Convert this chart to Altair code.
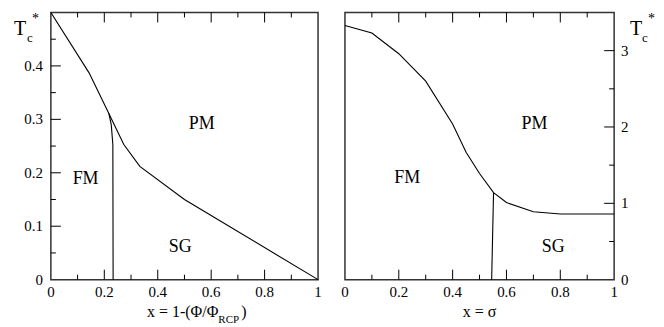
import altair as alt
import pandas as pd

# ---------------- data ----------------
# Left panel: x = 1-(Phi/Phi_RCP)
left_pm_x = [0.0, 0.143, 0.217, 0.273, 0.333, 0.50, 1.0]
left_pm_y = [0.5, 0.387, 0.311, 0.253, 0.212, 0.150, 0.0]
left_fm_x = [0.217, 0.226, 0.232, 0.233]
left_fm_y = [0.311, 0.290, 0.253, 0.0]

# Right panel: x = sigma
right_pm_x = [0.0, 0.1, 0.2, 0.3, 0.4, 0.45, 0.5, 0.552, 0.6, 0.7, 0.8, 1.0]
right_pm_y = [3.33, 3.23, 2.96, 2.60, 2.04, 1.67, 1.39, 1.14, 1.01, 0.89, 0.86, 0.86]
right_fm_x = [0.552, 0.545]
right_fm_y = [1.14, 0.0]

phase_labels = ["PM", "FM", "SG"]
left_label_x = [0.565, 0.13, 0.484]
left_label_y = [0.291, 0.189, 0.062]
right_label_x = [0.704, 0.231, 0.774]
right_label_y = [2.04, 1.33, 0.43]

x_labels = [0, 0.2, 0.4, 0.6, 0.8, 1.0]
x_label_text = ["0", "0.2", "0.4", "0.6", "0.8", "1"]
x_major = [0.2, 0.4, 0.6, 0.8]
x_minor = [0.1, 0.3, 0.5, 0.7, 0.9]
left_y_labels = [0, 0.1, 0.2, 0.3, 0.4]
left_y_label_text = ["0", "0.1", "0.2", "0.3", "0.4"]
left_y_major = [0.1, 0.2, 0.3, 0.4]
left_y_minor = [0.05, 0.15, 0.25, 0.35, 0.45]
right_y_labels = [0, 1, 2, 3]
right_y_label_text = ["0", "1", "2", "3"]
right_y_major = [1, 2, 3]
right_y_minor = [0.5, 1.5, 2.5]

W, H = 268, 268
RW = 270
FONT = "Liberation Serif"
MAJ, MIN = 10, 5
TICK_FS = 15


def panel(pm_x, pm_y, fm_x, fm_y, lab_x, lab_y, ydom, ylabels, ytext,
          ymaj, ymin, yorient, width):
    xs = alt.Scale(domain=[0, 1], nice=False, zero=False)
    ys = alt.Scale(domain=ydom, nice=False, zero=False)

    pm = pd.DataFrame({"x": pm_x, "y": pm_y, "i": range(len(pm_x))})
    fm = pd.DataFrame({"x": fm_x, "y": fm_y, "i": range(len(fm_x))})

    l1 = alt.Chart(pm).mark_line(color="black", strokeWidth=1.1).encode(
        x=alt.X("x:Q", scale=xs, axis=None),
        y=alt.Y("y:Q", scale=ys, axis=None),
        order="i:Q")
    l2 = alt.Chart(fm).mark_line(color="black", strokeWidth=1.1).encode(
        x=alt.X("x:Q", scale=xs, axis=None),
        y=alt.Y("y:Q", scale=ys, axis=None), order="i:Q")

    layers = [l1, l2]
    # inward ticks on bottom and top
    for vals, ln in [(x_major, MAJ), (x_minor, MIN)]:
        d = pd.DataFrame({"x": vals})
        layers.append(alt.Chart(d).mark_rule(color="black", strokeWidth=1).encode(
            x=alt.X("x:Q", scale=xs, axis=None), y=alt.value(H),
            y2=alt.value(H - ln)))
        layers.append(alt.Chart(d).mark_rule(color="black", strokeWidth=1).encode(
            x=alt.X("x:Q", scale=xs, axis=None), y=alt.value(0),
            y2=alt.value(ln)))
    # inward ticks on the labelled side
    for vals, ln in [(ymaj, MAJ), (ymin, MIN)]:
        d = pd.DataFrame({"y": vals})
        if yorient == "left":
            x0, x1 = 0, ln
        else:
            x0, x1 = width, width - ln
        layers.append(alt.Chart(d).mark_rule(color="black", strokeWidth=1).encode(
            y=alt.Y("y:Q", scale=ys, axis=None), x=alt.value(x0),
            x2=alt.value(x1)))

    # tick labels
    xl = pd.DataFrame({"v": x_labels, "t": x_label_text})
    layers.append(alt.Chart(xl).mark_text(
        font=FONT, fontSize=TICK_FS, color="black", align="center",
        baseline="alphabetic").encode(
        x=alt.X("v:Q", scale=xs, axis=None), y=alt.value(H + 17),
        text="t:N"))
    yl = pd.DataFrame({"v": ylabels, "t": ytext})
    if yorient == "left":
        ya, yx = "right", -8
    else:
        ya, yx = "left", width + 7
    layers.append(alt.Chart(yl).mark_text(
        font=FONT, fontSize=TICK_FS, color="black", align=ya,
        baseline="middle").encode(
        y=alt.Y("v:Q", scale=ys, axis=None), x=alt.value(yx), text="t:N"))

    lab = pd.DataFrame({"t": phase_labels, "x": lab_x, "y": lab_y})
    layers.append(alt.Chart(lab).mark_text(font=FONT, fontSize=18,
                                           color="black").encode(
        x=alt.X("x:Q", scale=xs, axis=None),
        y=alt.Y("y:Q", scale=ys, axis=None), text="t:N"))
    return layers


def txt(s, x, y, size, align="left"):
    return alt.Chart(pd.DataFrame({"t": [s]})).mark_text(
        font=FONT, fontSize=size, color="black", align=align,
        baseline="alphabetic").encode(
        x=alt.value(x), y=alt.value(y), text="t:N")


left_layers = panel(left_pm_x, left_pm_y, left_fm_x, left_fm_y,
                    left_label_x, left_label_y, [0, 0.5], left_y_labels,
                    left_y_label_text, left_y_major, left_y_minor, "left", W)
left_layers += [
    txt("T", -37, 23, 20),
    txt("c", -24, 30, 13),
    txt("*", -19, 11, 14),
    txt("x = 1-(Φ/Φ", 168, 305, 16, align="right"),
    txt("RCP", 168, 311, 11),
    txt(")", 191, 305, 16),
]

right_layers = panel(right_pm_x, right_pm_y, right_fm_x, right_fm_y,
                     right_label_x, right_label_y, [0, 3.5], right_y_labels,
                     right_y_label_text, right_y_major, right_y_minor,
                     "right", RW)
right_layers += [
    txt("T", 286, 23, 20),
    txt("c", 298, 30, 13),
    txt("*", 304, 11, 14),
    txt("x = σ", RW / 2, 305, 16, align="center"),
]

left = alt.layer(*left_layers).properties(width=W, height=H)
right = alt.layer(*right_layers).properties(width=RW, height=H)

chart = alt.hconcat(left, right, spacing=27, bounds="flush").properties(
    padding={"left": 5, "top": 1, "right": 0, "bottom": 0},
    background="white"
).configure_view(stroke="#333333", strokeWidth=1.5)

chart.save("out.html", embed_options={"renderer": "svg", "actions": False})
